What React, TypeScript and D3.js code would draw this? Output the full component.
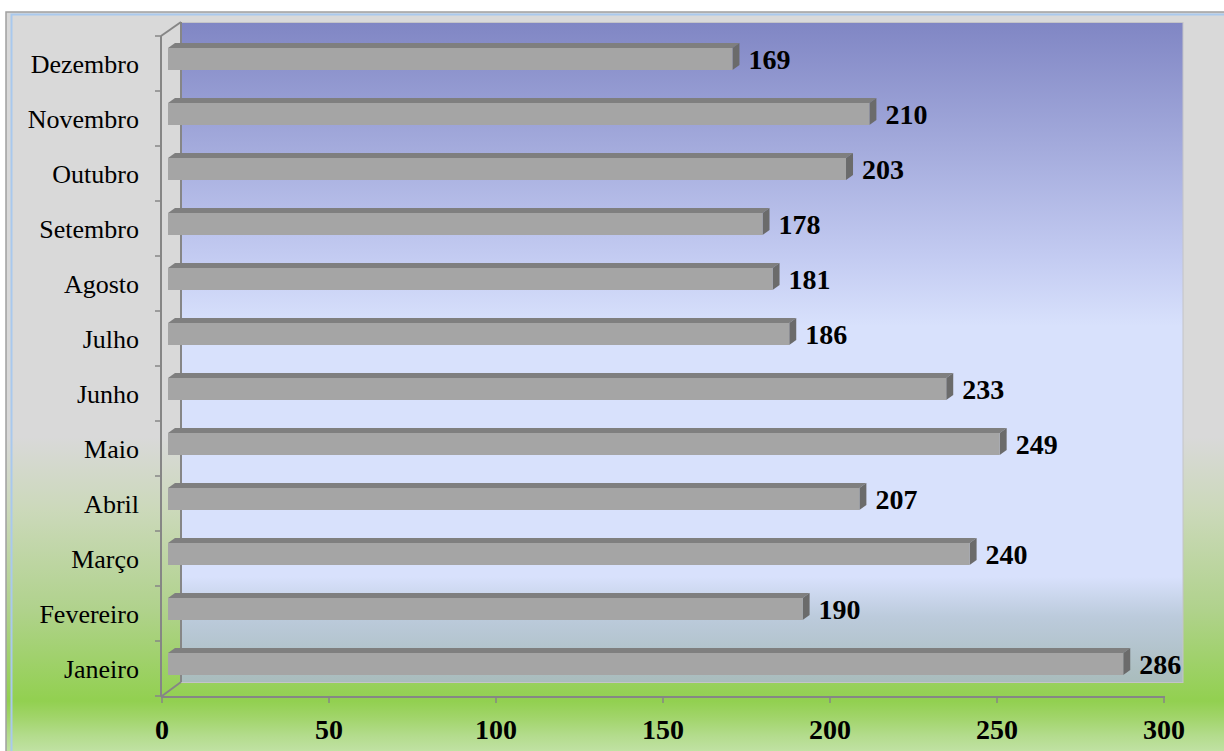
import React from "react";
import * as d3 from "d3";

const months = ["Janeiro","Fevereiro","Março","Abril","Maio","Junho","Julho","Agosto","Setembro","Outubro","Novembro","Dezembro"];
const values = [286,190,240,207,249,233,186,181,178,203,210,169];
const xTicks = [0,50,100,150,200,250,300];

const W = 1224, H = 751;
const DX = 19, DY = -14; // wall depth offset
const BX = 6, BY = -4.5; // bar front offset
const BDX = 7, BDY = -5; // bar depth
const BAR_H = 22;
const serif = "'Liberation Serif','Times New Roman',Times,serif";

export default function App() {
  const x = d3.scaleLinear().domain([0, 300]).range([162, 1164]);
  const y = d3.scaleBand<string>().domain(months).range([696, 36]).padding(0);
  const x0 = x(0), x1 = x(300);
  const yTop = 36, yBot = 696;
  const bg = (y: number) => (y - 12) / 739;
  const bgStops: [number, string][] = [
    [0, "#d9d9d9"], [bg(430), "#d9d9d9"], [bg(500), "#ccd9bb"], [bg(600), "#b0d28c"],
    [bg(690), "#92d050"], [bg(705), "#a0d468"], [bg(725), "#b4dc8e"], [1, "#cae6b4"],
  ];
  const wallStops: [number, string][] = [
    [0, "#8086c4"], [0.36, "#c4ccf2"], [0.46, "#d8e1fc"], [0.84, "#d8e1fc"], [0.9, "#bccbdc"], [1, "#a9bcbc"],
  ];
  return (
    <svg width={W} height={H} style={{ position: "absolute", left: 0, top: 0 }}>
      <defs>
        <linearGradient id="bg" x1="0" y1="0" x2="0" y2="1">
          {bgStops.map(([o, c], i) => <stop key={i} offset={o} stopColor={c} />)}
        </linearGradient>
        <linearGradient id="wall" x1="0" y1="0" x2="0" y2="1">
          {wallStops.map(([o, c], i) => <stop key={i} offset={o} stopColor={c} />)}
        </linearGradient>
      </defs>
      <rect x={0} y={0} width={W} height={H} fill="#ffffff" />
      <rect x={6} y={12} width={W} height={H} fill="url(#bg)" stroke="#a0a0a0" strokeWidth={1.5} />
      <path d={`M11.5,${H} V14.5 H${W}`} fill="none" stroke="#a9c9ee" strokeWidth={2} />
      {/* back wall */}
      <rect x={x0 + DX} y={yTop + DY + 0.5} width={x1 - x0} height={yBot - yTop} fill="url(#wall)" stroke="#c4c4c8" strokeWidth={1} />
      <line x1={x0 + DX} x2={x0 + DX} y1={yTop + DY} y2={yBot + DY} stroke="#868686" strokeWidth={2} />
      {/* axis plane lines */}
      <line x1={x0 - 1} x2={x0 - 1} y1={yTop} y2={yBot + 1} stroke="#868686" strokeWidth={2} />
      <line x1={x0 - 1} y1={yTop} x2={x0 + DX} y2={yTop + DY} stroke="#868686" strokeWidth={2} />
      <line x1={x0} y1={yBot} x2={x0 + DX} y2={yBot + DY} stroke="#868686" strokeWidth={2} />
      <line x1={x0 - 1} x2={x1 + 1} y1={yBot + 1} y2={yBot + 1} stroke="#868686" strokeWidth={2} />
      {xTicks.map((t) => (
        <line key={t} x1={x(t)} x2={x(t)} y1={yBot + 1} y2={yBot + 7} stroke="#868686" strokeWidth={1.5} />
      ))}
      {d3.range(months.length + 1).map((i) => {
        const yy = yTop + i * y.step();
        return <line key={i} x1={x0 - 7} x2={x0} y1={yy} y2={yy} stroke="#868686" strokeWidth={1.5} />;
      })}
      {/* bars */}
      {months.map((m, i) => {
        const v = values[i];
        const c = (y(m) as number) + y.bandwidth() / 2 + BY;
        const top = c - BAR_H / 2, bot = c + BAR_H / 2;
        const xl = x0 + BX, xr = x(v) + BX;
        return (
          <g key={m}>
            <path d={`M${xl},${top} L${xl + BDX},${top + BDY} L${xr + BDX},${top + BDY} L${xr},${top} Z`} fill="#7f7f7f" />
            <path d={`M${xr},${top} L${xr + BDX},${top + BDY} L${xr + BDX},${bot + BDY} L${xr},${bot} Z`} fill="#6b6b6b" />
            <rect x={xl} y={top} width={xr - xl} height={BAR_H} fill="#a5a5a5" />
            <text x={xr + BDX + 9} y={c + 10} fontFamily={serif} fontWeight="bold" fontSize={28} fill="#000">{v}</text>
          </g>
        );
      })}
      {months.map((m) => (
        <text key={m} x={139} y={(y(m) as number) + y.bandwidth() / 2 + 9} textAnchor="end" fontFamily={serif} fontSize={26} fill="#000">{m}</text>
      ))}
      {xTicks.map((t) => (
        <text key={t} x={x(t)} y={739} textAnchor="middle" fontFamily={serif} fontWeight="bold" fontSize={28} fill="#000">{t}</text>
      ))}
    </svg>
  );
}
